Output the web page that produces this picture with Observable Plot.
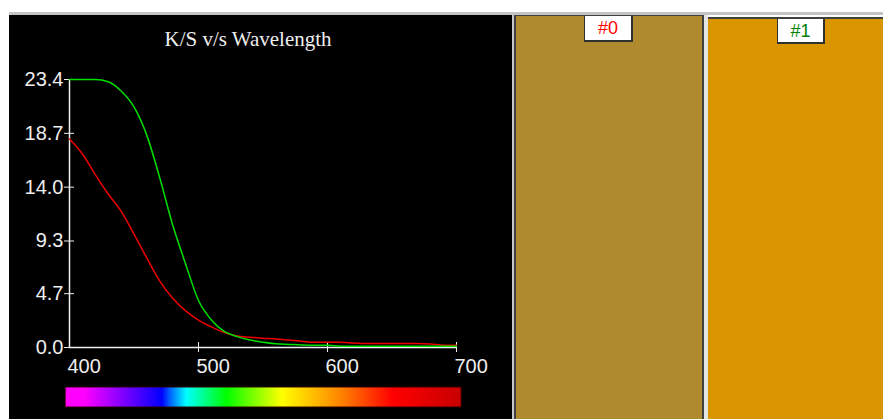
<!DOCTYPE html>
<html>
<head>
<meta charset="utf-8">
<script src="https://cdn.jsdelivr.net/npm/d3@7"></script>
<script src="https://cdn.jsdelivr.net/npm/@observablehq/plot@0.6"></script>
<style>
  html, body { margin: 0; padding: 0; background: #ffffff; }
  #root { position: relative; width: 883px; height: 419px; overflow: hidden; background: #ffffff; }
  .abs { position: absolute; }
  #chart { position: absolute; left: 9px; top: 15px; width: 503px; height: 404px; background: #000; }
  #chart svg { display: block; }
  .label { position: absolute; background: #ffffff; box-sizing: border-box;
           border-left: 1px solid #303030; border-right: 2px solid #303030; border-bottom: 2px solid #303030;
           font-family: "Liberation Sans", Arial, sans-serif; font-size: 18px; line-height: 24px; text-align: center; }
</style>
</head>
<body>
<div id="root">
  <div class="abs" style="left:9px;top:12px;width:874px;height:3px;background:#c4c4c4"></div>
  <div id="chart"></div>
</div>
<script>
// ---- data ----
const title = "K/S v/s Wavelength";
const wavelengths = [400,410,420,430,440,450,460,470,480,490,500,510,520,530,540,550,560,570,580,590,600,610,620,630,640,650,660,670,680,690,700];
const sample0KS = [18.2,16.9,15.1,13.4,11.9,9.9,7.8,5.8,4.3,3.2,2.4,1.8,1.3,1.0,0.9,0.8,0.75,0.65,0.55,0.45,0.45,0.45,0.4,0.35,0.35,0.35,0.35,0.35,0.3,0.2,0.2];
const sample1KS = [23.4,23.4,23.4,23.2,22.4,21.0,18.5,14.8,10.7,7.3,4.1,2.4,1.4,0.95,0.65,0.45,0.32,0.27,0.22,0.2,0.2,0.12,0.1,0.1,0.1,0.1,0.1,0.1,0.1,0.1,0.1];
const yTicks = [0.0, 4.7, 9.3, 14.0, 18.7, 23.4];
const xTickLabels = [400, 500, 600, 700];
const xTickMarks = [500, 600, 700];
const spectrumStopWl = [397, 412, 472, 478, 491, 522, 565, 612, 651, 704];
const spectrumStopColor = ["#ff00ff", "#ff00ff", "#0000ff", "#0060ff", "#00ffff", "#00ff00", "#ffff00", "#ff8000", "#ff0000", "#c80000"];
const sampleLabels = ["#0", "#1"];
const sampleColors = ["#b08a2e", "#d99600"];
const sampleLabelColors = ["#ff0000", "#008000"];

// ---- chart ----
const rows0 = wavelengths.map((w, i) => ({w, v: sample0KS[i]}));
const rows1 = wavelengths.map((w, i) => ({w, v: sample1KS[i]}));
const specLo = spectrumStopWl[0], specHi = spectrumStopWl[spectrumStopWl.length - 1];

const fg = "#eeeeee";
const plot = Plot.plot({
  width: 503, height: 404,
  marginLeft: 60, marginRight: 56, marginTop: 64, marginBottom: 72,
  x: {domain: [400, 700], label: null},
  y: {domain: [0, 23.4], label: null},
  style: {background: "#000", color: fg, fontFamily: "'Liberation Sans', Arial, sans-serif", fontSize: "20px"},
  marks: [
    Plot.text([title], {frameAnchor: "top-left", dx: 178.5, dy: -40.7, lineAnchor: "middle", textAnchor: "middle",
      fontFamily: "'Liberation Serif', 'Times New Roman', serif", fontSize: 21, fill: fg}),
    Plot.rect([0], {x1: specLo, x2: specHi, y1: -3.49, y2: -5.24, fill: "url(#spectrum)", stroke: "#2a0000", strokeWidth: 1}),
    Plot.ruleX([400], {stroke: fg, strokeWidth: 1.5}),
    Plot.ruleY([0], {stroke: fg, strokeWidth: 1.5}),
    Plot.axisY(yTicks, {label: null, tickSize: 10, dx: 5, tickPadding: 1, tickFormat: d => d.toFixed(1), stroke: fg, fill: fg, fontSize: 20}),
    Plot.axisX(xTickMarks, {label: null, tickSize: 10, dy: -5, tickFormat: () => "", stroke: fg}),
    Plot.axisX(xTickLabels, {label: null, tickSize: 0, tickPadding: 11, dx: -2, textAnchor: "start", tickFormat: d => String(d), fill: fg, fontSize: 20}),
    Plot.line(rows0, {x: "w", y: "v", stroke: "#ee0000", strokeWidth: 1.5, curve: "monotone-x"}),
    Plot.line(rows1, {x: "w", y: "v", stroke: "#00e000", strokeWidth: 1.5, curve: "monotone-x"})
  ]
});

// gradient definition for spectrum bar, stops from the data arrays
const defs = d3.select(plot).insert("defs", ":first-child");
const grad = defs.append("linearGradient").attr("id", "spectrum").attr("x1", "0").attr("x2", "1").attr("y1", "0").attr("y2", "0");
spectrumStopWl.forEach((w, i) => {
  grad.append("stop").attr("offset", (w - specLo) / (specHi - specLo)).attr("stop-color", spectrumStopColor[i]);
});
document.getElementById("chart").appendChild(plot);

// ---- swatches ----
const root = document.getElementById("root");
const panels = [
  {left: 516, top: 16, width: 186, labelLeft: 584, labelTop: 16, labelW: 49, labelH: 26},
  {left: 708, top: 19, width: 175, labelLeft: 777, labelTop: 19, labelW: 48, labelH: 25}
];
function addDiv(style) { const d = document.createElement("div"); d.className = "abs"; Object.assign(d.style, style); root.appendChild(d); return d; }
// separators
addDiv({left: "512px", top: "15px", width: "2px", height: "404px", background: "#c8c8c8"});
addDiv({left: "514px", top: "15px", width: "2px", height: "404px", background: "#404040"});
addDiv({left: "516px", top: "15px", width: "186px", height: "1px", background: "#404040"});
addDiv({left: "702px", top: "15px", width: "2px", height: "404px", background: "#404040"});
addDiv({left: "704px", top: "15px", width: "4px", height: "404px", background: "#e4e4e4"});
addDiv({left: "708px", top: "17px", width: "175px", height: "2px", background: "#404040"});
sampleLabels.forEach((lab, i) => {
  const p = panels[i];
  addDiv({left: p.left + "px", top: p.top + "px", width: p.width + "px", height: (419 - p.top) + "px", background: sampleColors[i]});
  const l = document.createElement("div");
  l.className = "label";
  Object.assign(l.style, {left: p.labelLeft + "px", top: p.labelTop + "px", width: p.labelW + "px", height: p.labelH + "px", color: sampleLabelColors[i]});
  l.textContent = lab;
  root.appendChild(l);
});
</script>
</body>
</html>
